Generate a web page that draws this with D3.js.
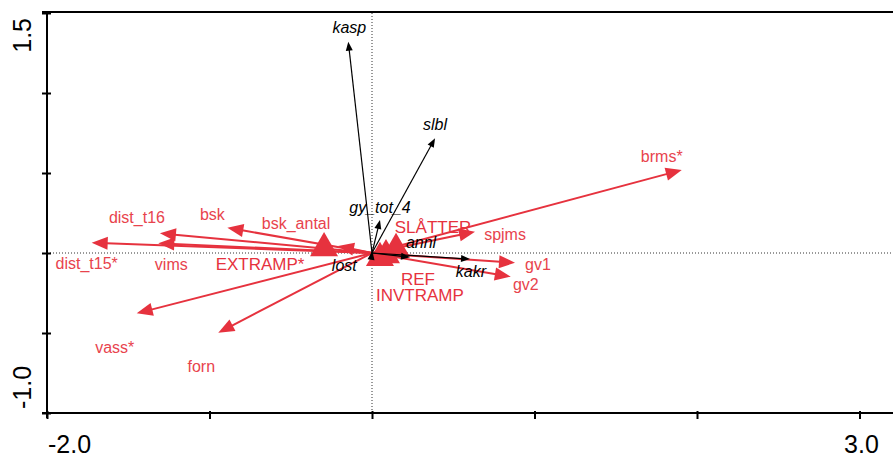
<!DOCTYPE html>
<html>
<head>
<meta charset="utf-8">
<script src="https://cdn.jsdelivr.net/npm/d3@7"></script>
<style>
  html, body { margin: 0; padding: 0; background: #fff; }
  svg { display: block; font-family: "Liberation Sans", Arial, Helvetica, sans-serif; }
</style>
</head>
<body>
<svg id="chart" width="893" height="457"></svg>
<script>
// Environmental variables (red arrows): biplot scores on axes 1 and 2
const envNames = ["brms*", "spjms", "gv1", "gv2", "dist_t15*", "dist_t16", "vims", "bsk", "bsk_antal", "vass*", "forn"];
const envX = [1.906, 0.634, 0.880, 0.854, -1.725, -1.305, -1.315, -0.890, -0.209, -1.448, -0.946];
const envY = [0.519, 0.133, -0.061, -0.148, 0.064, 0.123, 0.061, 0.158, 0.044, -0.377, -0.498];

// Species (black arrows)
const spNames = ["kasp", "slbl", "gy_tot_4", "annl", "kakr", "lost"];
const spX = [-0.146, 0.388, 0.049, 0.234, 0.603, 0.002];
const spY = [1.321, 0.717, 0.206, -0.027, -0.038, 0.014];

// Nominal treatment classes (red triangles at centroids)
const classNames = ["EXTRAMP*", "SLÅTTER", "REF", "INVTRAMP"];
const classX = [-0.295, 0.148, 0.086, 0.049];
const classY = [0.030, 0.025, -0.013, -0.031];

// Axis ticks and the labels printed at the extremes
const xTicks = [-2, -1, 0, 1, 2, 3];
const yTicks = [-1, -0.5, 0, 0.5, 1, 1.5];
const xTickLabels = ["-2.0", "3.0"];
const yTickLabels = ["-1.0", "1.5"];

// Label placement relative to each point (px): [dx to text centre, dy to baseline]
const labelOffsets = {
  "brms*": [-20, -8], "spjms": [30, 8], "gv1": [23, 7], "gv2": [15, 13],
  "dist_t15*": [-5, 26], "dist_t16": [-23, -10], "vims": [13, 27], "bsk": [-15, -8],
  "bsk_antal": [-42, -17], "vass*": [-22, 40], "forn": [-17, 39],
  "kasp": [1, -9], "slbl": [0, -8], "gy_tot_4": [0, -7], "annl": [11, -9],
  "kakr": [1, 18], "lost": [-28, 20],
  "EXTRAMP*": [-64, 22], "SLÅTTER": [37, -16], "REF": [32, 30], "INVTRAMP": [40, 43]
};

const W = 893, H = 457;
const svg = d3.select("#chart");

const x = d3.scaleLinear().domain([-2, 3]).range([47, 859.5]);
const y = d3.scaleLinear().domain([-1, 1.5]).range([413, 13]);

const red = "#e6323e";
const redText = "#e8434d";

// Dotted zero lines
svg.append("line")
  .attr("x1", x(0)).attr("x2", x(0)).attr("y1", y(1.5)).attr("y2", y(-1))
  .attr("stroke", "#333").attr("stroke-width", 1).attr("stroke-dasharray", "1,2");
svg.append("line")
  .attr("x1", x(-2)).attr("x2", W).attr("y1", y(0)).attr("y2", y(0))
  .attr("stroke", "#333").attr("stroke-width", 1).attr("stroke-dasharray", "1,2");

// Frame: left axis, bottom axis and top border
const frame = svg.append("g").attr("stroke", "#000").attr("stroke-width", 2);
frame.append("line").attr("x1", x(-2)).attr("x2", x(-2)).attr("y1", y(1.5) - 1).attr("y2", y(-1) + 5);
frame.append("line").attr("x1", x(-2) - 5).attr("x2", W).attr("y1", y(-1)).attr("y2", y(-1));
frame.append("line").attr("x1", x(-2) - 5).attr("x2", W).attr("y1", y(1.5) - 1).attr("y2", y(1.5) - 1);

// Bottom axis ticks (crossing the axis line)
const xAxis = d3.axisBottom(x).tickValues(xTicks).tickSize(6).tickFormat("");
const gx = svg.append("g").attr("transform", `translate(0,${y(-1)})`).call(xAxis);
gx.select(".domain").remove();
gx.selectAll(".tick line").attr("y1", -2).attr("y2", 6).attr("stroke", "#000").attr("stroke-width", 2);

// Left axis ticks
const yAxis = d3.axisLeft(y).tickValues(yTicks).tickSize(5).tickFormat("");
const gy = svg.append("g").attr("transform", `translate(${x(-2)},0)`).call(yAxis);
gy.select(".domain").remove();
gy.selectAll(".tick line").attr("x1", 4).attr("x2", -5).attr("stroke", "#000").attr("stroke-width", 2);

// Tick labels at the ends of each axis
svg.append("text").attr("x", x(-2) + 1).attr("y", 453)
  .attr("font-size", 25).attr("text-anchor", "start").text(xTickLabels[0]);
svg.append("text").attr("x", x(3) + 2).attr("y", 453)
  .attr("font-size", 25).attr("text-anchor", "middle").text(xTickLabels[1]);
svg.append("text").attr("transform", `translate(31,${y(-1) - 4}) rotate(-90)`)
  .attr("font-size", 25).attr("text-anchor", "start").text(yTickLabels[0]);
svg.append("text").attr("transform", `translate(31,${y(1.5) + 5}) rotate(-90)`)
  .attr("font-size", 25).attr("text-anchor", "end").text(yTickLabels[1]);

// Arrow from the origin with a filled triangular head
function arrow(g, vx, vy, color, width, headLen, headHalf) {
  const x0 = x(0), y0 = y(0), x1 = x(vx), y1 = y(vy);
  const dx = x1 - x0, dy = y1 - y0;
  const len = Math.hypot(dx, dy) || 1;
  const ux = dx / len, uy = dy / len;
  const bx = x1 - ux * headLen, by = y1 - uy * headLen;
  if (len > headLen) {
    g.append("line").attr("x1", x0).attr("y1", y0).attr("x2", bx + ux * 1).attr("y2", by + uy * 1)
      .attr("stroke", color).attr("stroke-width", width);
  }
  const px = -uy, py = ux;
  g.append("path")
    .attr("d", `M${x1},${y1}L${bx + px * headHalf},${by + py * headHalf}L${bx - px * headHalf},${by - py * headHalf}Z`)
    .attr("fill", color);
}

const gEnv = svg.append("g");
envNames.forEach((n, i) => arrow(gEnv, envX[i], envY[i], red, 2, 16, 6.5));

// Class centroids
svg.append("g").selectAll("path").data(classNames).join("path")
  .attr("transform", (d, i) => `translate(${x(classX[i])},${y(classY[i])})`)
  .attr("d", d3.symbol(d3.symbolTriangle, 340))
  .attr("fill", red);

const gSp = svg.append("g");
spNames.forEach((n, i) => arrow(gSp, spX[i], spY[i], "#000", 1.2, 9, 3.5));

// Labels
const lab = svg.append("g");
envNames.forEach((n, i) => {
  const o = labelOffsets[n];
  lab.append("text").attr("x", x(envX[i]) + o[0]).attr("y", y(envY[i]) + o[1])
    .attr("text-anchor", "middle").attr("font-size", 16).attr("fill", redText).text(n);
});
classNames.forEach((n, i) => {
  const o = labelOffsets[n];
  lab.append("text").attr("x", x(classX[i]) + o[0]).attr("y", y(classY[i]) + o[1])
    .attr("text-anchor", "middle").attr("font-size", 17).attr("fill", red).text(n);
});
spNames.forEach((n, i) => {
  const o = labelOffsets[n];
  lab.append("text").attr("x", x(spX[i]) + o[0]).attr("y", y(spY[i]) + o[1])
    .attr("text-anchor", "middle").attr("font-size", 16).attr("font-style", "italic")
    .attr("fill", "#000").text(n);
});
</script>
</body>
</html>
